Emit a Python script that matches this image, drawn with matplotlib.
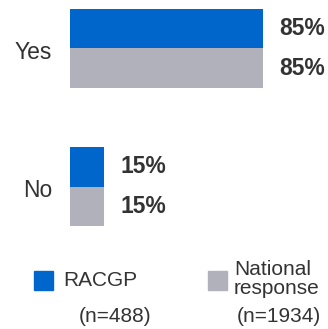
import matplotlib.pyplot as plt
from matplotlib.patches import Rectangle
import numpy as np

plt.rcParams['font.family'] = ['Liberation Sans', 'DejaVu Sans']

# data
categories = ['Yes', 'No']
racgp = [85, 15]
national = [85, 15]
series_names = ['RACGP', 'National\nresponse']
sample_sizes = ['(n=488)', '(n=1934)']

blue = '#0066CC'
grey = '#B1B1BB'
txt = '#333333'

W, H = 328, 329
fig = plt.figure(figsize=(W / 100, H / 100), dpi=100)

# axes: zero line at x=70px, bars from y=9px to 226px
ax = fig.add_axes([70 / W, (H - 226) / H, (W - 70) / W, 217 / H])
h = 0.286
y = np.arange(len(categories))
ax.barh(y - h / 2, racgp, height=h, color=blue)
ax.barh(y + h / 2, national, height=h, color=grey)
ax.set_xlim(0, (W - 70) / 2.27)
ax.set_ylim(len(categories) - 1 + h, -h)

for i in range(len(categories)):
    ax.annotate(f'{racgp[i]}%', (racgp[i], i - h / 2), xytext=(12, 0),
                textcoords='offset points', va='center', ha='left',
                fontsize=16.5, fontweight='bold', color=txt)
    ax.annotate(f'{national[i]}%', (national[i], i + h / 2), xytext=(12, 0),
                textcoords='offset points', va='center', ha='left',
                fontsize=16.5, fontweight='bold', color=txt)

ax.set_yticks(y + 0.01)
ax.set_yticklabels(categories, fontsize=16.5, color=txt)
ax.tick_params(axis='y', length=0, pad=13)
ax.set_xticks([])
for s in ax.spines.values():
    s.set_visible(False)

# legend, drawn by hand
sq = 19
for (x0, col) in [(34, blue), (208, grey)]:
    fig.patches.append(Rectangle((x0 / W, (H - 290) / H), sq / W, sq / H,
                                 transform=fig.transFigure, color=col))
fig.text(63 / W, 1 - 280 / H, series_names[0], fontsize=15, color=txt,
         ha='left', va='center')
fig.text(234 / W, 1 - 279 / H, series_names[1], fontsize=15, color=txt,
         ha='left', va='center', linespacing=1.05)
fig.text(115 / W, 1 - 317 / H, sample_sizes[0], fontsize=15, color=txt,
         ha='center', va='center')
fig.text(279 / W, 1 - 317 / H, sample_sizes[1], fontsize=15, color=txt,
         ha='center', va='center')

fig.savefig('out.png', dpi=100)
